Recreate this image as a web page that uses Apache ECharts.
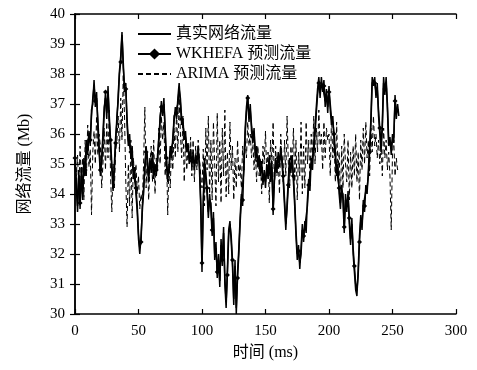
<!DOCTYPE html>
<html><head><meta charset="utf-8">
<script src="https://cdn.jsdelivr.net/npm/echarts@6/dist/echarts.min.js"></script>
<style>html,body{margin:0;padding:0;background:#fff}#c{width:477px;height:370px}</style>
</head><body><div id="c"></div>
<script>
const seriesNames = ['真实网络流量', 'WKHEFA 预测流量', 'ARIMA 预测流量'];
const xTicks = [0, 50, 100, 150, 200, 250, 300];
const yTicks = [30, 31, 32, 33, 34, 35, 36, 37, 38, 39, 40];

const realFlow = [
35.0,34.2,33.6,34.8,33.5,34.9,33.8,35.2,34.6,35.8,
35.3,36.1,35.6,36.8,37.0,37.8,36.9,37.4,36.2,35.4,
34.6,35.2,36.0,36.9,37.2,36.5,37.6,36.4,35.6,34.8,
34.1,35.0,35.9,36.4,37.3,38.1,38.6,39.4,38.2,37.6,
37.7,36.3,35.6,36.0,35.2,35.6,34.5,34.9,34.0,33.4,
32.5,32.0,32.6,33.4,34.2,34.8,35.6,35.0,34.4,35.2,
34.7,35.4,34.5,35.0,34.6,35.3,35.9,36.4,37.1,36.6,
37.2,36.0,35.0,34.4,34.9,35.6,35.2,35.9,36.4,36.9,
36.5,37.2,37.7,37.0,36.3,36.5,35.8,36.1,35.4,35.7,
35.0,35.5,34.9,35.4,34.8,35.3,35.0,35.6,34.8,33.6,
31.4,33.8,35.2,34.5,34.0,33.2,34.0,33.5,32.6,33.4,
31.8,32.4,31.2,32.0,30.9,32.5,31.6,32.9,31.0,30.2,
31.5,32.8,33.1,32.4,31.6,30.3,31.8,30.0,31.4,32.2,
33.2,34.0,33.6,35.0,36.2,36.9,37.3,36.4,37.0,36.1,
35.7,36.2,35.2,35.6,34.9,35.3,34.6,35.1,34.3,34.8,
34.2,35.0,34.5,35.3,34.4,35.1,33.3,34.6,35.2,34.7,
35.4,34.9,35.6,35.0,34.4,33.6,32.8,33.7,34.5,35.2,
34.7,35.3,34.4,33.6,32.6,31.8,32.3,31.5,32.2,33.0,
32.4,33.1,32.7,33.8,34.5,34.1,35.2,34.8,35.7,36.2,
36.9,37.5,37.9,37.2,37.9,37.4,37.8,36.9,37.5,36.7,
37.6,36.8,36.3,36.6,35.8,35.2,34.6,35.0,34.0,33.5,
34.3,33.8,32.7,34.0,33.4,34.1,33.0,32.3,33.2,32.0,
31.4,30.8,30.6,31.5,32.6,33.3,32.8,33.8,33.4,34.3,
34.0,34.8,35.6,36.5,37.9,37.6,37.9,37.2,37.7,36.6,
36.0,35.4,36.4,37.9,37.3,37.9,36.8,35.6,35.9,35.3,
36.0,35.7,37.3,36.5,37.0,36.6
];

const wkhefaFlow = [
35.2,34.5,33.4,34.6,33.7,34.6,34.0,35.0,34.8,35.6,
35.5,35.9,35.8,36.6,37.2,37.6,37.1,37.2,36.5,35.6,
34.8,35.0,35.8,36.7,37.4,36.7,37.4,36.6,35.8,35.0,
34.3,34.8,35.7,36.6,37.1,38.0,38.4,39.3,38.4,37.4,
37.5,36.5,35.8,35.8,35.4,35.4,34.7,34.7,34.2,33.6,
32.7,32.2,32.4,33.6,34.0,35.0,35.4,35.2,34.6,35.0,
34.9,35.2,34.7,34.8,34.8,35.1,35.7,36.6,36.9,36.8,
37.0,36.2,35.2,34.6,34.7,35.4,35.4,35.7,36.6,36.7,
36.7,37.0,37.5,37.2,36.5,36.3,36.0,35.9,35.6,35.5,
35.2,35.3,35.1,35.2,35.0,35.1,35.2,35.4,35.0,33.8,
31.7,33.6,35.0,34.7,34.2,33.4,33.8,33.7,32.8,33.2,
32.0,32.2,31.4,31.8,31.1,32.3,31.8,32.7,31.2,30.4,
31.3,32.6,33.0,32.6,31.8,30.5,31.6,30.2,31.2,32.0,
33.0,33.8,33.8,34.8,36.0,36.7,37.2,36.6,36.8,36.3,
35.9,36.0,35.4,35.4,35.1,35.1,34.8,34.9,34.5,34.6,
34.4,34.8,34.7,35.1,34.6,34.9,33.5,34.4,35.0,34.9,
35.2,35.1,35.4,35.2,34.6,33.8,33.0,33.5,34.3,35.0,
34.9,35.1,34.6,33.8,32.8,32.0,32.1,31.7,32.0,32.8,
32.6,32.9,32.9,33.6,34.3,34.3,35.0,35.0,35.5,36.0,
36.7,37.3,37.7,37.4,37.7,37.6,37.6,37.1,37.3,36.9,
37.4,37.0,36.5,36.4,36.0,35.4,34.8,34.8,34.2,33.7,
34.1,34.0,32.9,33.8,33.6,33.9,33.2,32.5,33.0,32.2,
31.6,31.0,30.8,31.3,32.4,33.1,33.0,33.6,33.6,34.1,
34.2,34.6,35.4,36.3,37.7,37.8,37.7,37.4,37.5,36.8,
36.2,35.6,36.2,37.7,37.5,37.7,37.0,35.8,35.7,35.5,
35.8,35.9,37.1,36.7,36.8,36.8
];

const arimaFlow = [
35.0,34.6,35.3,34.1,35.6,34.4,35.2,33.8,35.8,34.6,
36.3,34.9,35.5,33.3,35.4,36.1,35.0,36.6,35.3,36.0,
35.6,34.2,35.0,36.2,34.8,36.4,35.2,36.8,34.6,33.4,
35.0,34.2,35.4,35.8,36.6,35.4,37.2,35.8,38.0,36.6,
34.4,32.9,35.0,33.6,35.8,33.2,35.2,34.4,35.0,34.0,
34.6,33.5,34.0,33.7,35.0,36.9,34.2,35.4,33.8,35.0,
35.6,34.4,35.8,34.0,35.2,34.8,36.2,35.0,36.6,35.8,
36.4,34.6,35.6,33.3,35.0,34.2,35.6,34.8,36.2,35.2,
36.8,35.4,37.2,36.0,35.2,36.6,34.4,35.8,34.8,35.6,
35.0,35.9,34.6,35.8,34.4,35.6,34.8,35.8,35.2,34.6,
34.2,35.5,33.6,36.2,34.8,36.6,34.0,35.8,33.8,36.4,
35.0,33.6,36.7,34.4,35.8,33.7,36.2,34.6,36.8,33.9,
35.4,34.0,36.4,34.8,35.6,33.8,35.2,34.2,35.8,34.6,
35.0,34.2,35.6,34.8,35.8,35.2,36.4,35.6,36.0,35.2,
35.8,34.8,35.4,34.4,35.6,34.6,35.2,34.0,35.6,35.0,
36.1,34.6,35.4,33.7,35.8,35.0,36.4,34.2,35.6,34.6,
35.2,34.0,36.0,35.2,34.4,35.8,34.6,36.6,35.0,34.2,
35.6,34.8,36.2,34.4,35.8,33.8,35.4,34.6,36.4,34.0,
35.6,34.2,36.4,35.0,35.8,34.4,36.0,35.2,36.6,35.0,
36.2,35.4,36.8,35.6,36.0,34.8,36.4,35.2,36.2,35.8,
36.0,34.6,36.6,35.2,35.8,34.4,36.4,34.8,35.4,33.8,
35.6,34.2,36.0,35.0,34.4,35.8,33.8,35.4,34.2,35.6,
34.6,36.0,34.4,35.4,33.8,35.8,34.8,36.2,35.0,36.4,
35.2,35.8,34.6,36.2,35.4,36.6,35.6,36.0,35.2,35.8,
35.0,35.6,34.6,36.2,35.2,35.8,34.8,35.4,34.6,32.8,
35.4,35.8,34.6,35.2,34.8,34.9
];

const toPairs = arr => arr.map((v, i) => [i, v]);
const FONT = 'Liberation Serif';
const CJK = 'Noto Sans CJK SC';

const chart = echarts.init(document.getElementById('c'), null, {renderer: 'canvas'});
const axisCommon = {
  axisLine: {show: true, lineStyle: {color: '#000', width: 1.5}},
  axisTick: {show: true, inside: true, length: 5, lineStyle: {color: '#000', width: 1.2}},
  splitLine: {show: false}
};
chart.setOption({
  animation: false,
  backgroundColor: '#fff',
  grid: {left: 75, right: 21, top: 14, bottom: 56, containLabel: false},
  legend: {
    orient: 'vertical', left: 132, top: 21, itemGap: 4, itemWidth: 33, itemHeight: 14,
    textStyle: {fontFamily: FONT + ',' + CJK, fontSize: 16, color: '#000'},
    data: [
      {name: seriesNames[0], itemStyle: {opacity: 0}},
      {name: seriesNames[1]},
      {name: seriesNames[2], itemStyle: {opacity: 0}}
    ]
  },
  xAxis: [
    Object.assign({type: 'value', min: xTicks[0], max: xTicks[xTicks.length-1], interval: 50,
      position: 'bottom',
      name: '时间 (ms)', nameLocation: 'middle', nameGap: 31,
      nameTextStyle: {fontFamily: FONT + ',' + CJK, fontSize: 16, color: '#000'},
      axisLabel: {fontFamily: FONT, fontSize: 15, color: '#000', margin: 10}}, axisCommon),
    Object.assign({type: 'value', min: 0, max: 300, interval: 50, position: 'top',
      axisLabel: {show: false}}, axisCommon)
  ],
  yAxis: [
    Object.assign({type: 'value', min: yTicks[0], max: yTicks[yTicks.length-1], interval: 1,
      position: 'left',
      name: '网络流量 (Mb)', nameLocation: 'middle', nameGap: 42,
      nameTextStyle: {fontFamily: FONT + ',' + CJK, fontSize: 16, color: '#000'},
      axisLabel: {fontFamily: FONT, fontSize: 15, color: '#000', margin: 10}}, axisCommon),
    Object.assign({type: 'value', min: 30, max: 40, interval: 1, position: 'right',
      axisLabel: {show: false}}, axisCommon)
  ],
  series: [
    {name: seriesNames[2], type: 'line', data: toPairs(arimaFlow), symbol: 'circle', showSymbol: false, z: 2,
      lineStyle: {color: '#000', width: 1, type: [5, 3]}, itemStyle: {color: '#000', opacity: 0}},
    {name: seriesNames[0], type: 'line', data: toPairs(realFlow), symbol: 'circle', showSymbol: false, z: 3,
      lineStyle: {color: '#000', width: 1.5}, itemStyle: {color: '#000', opacity: 0}},
    {name: seriesNames[1], type: 'line', data: toPairs(wkhefaFlow), symbol: 'diamond', z: 4,
      showAllSymbol: true,
      symbolSize: (v, p) => (p && p.dataIndex % 4 === 0) ? 5 : 0,
      lineStyle: {color: '#000', width: 1.5}, itemStyle: {color: '#000'}}
  ]
});
</script></body></html>
